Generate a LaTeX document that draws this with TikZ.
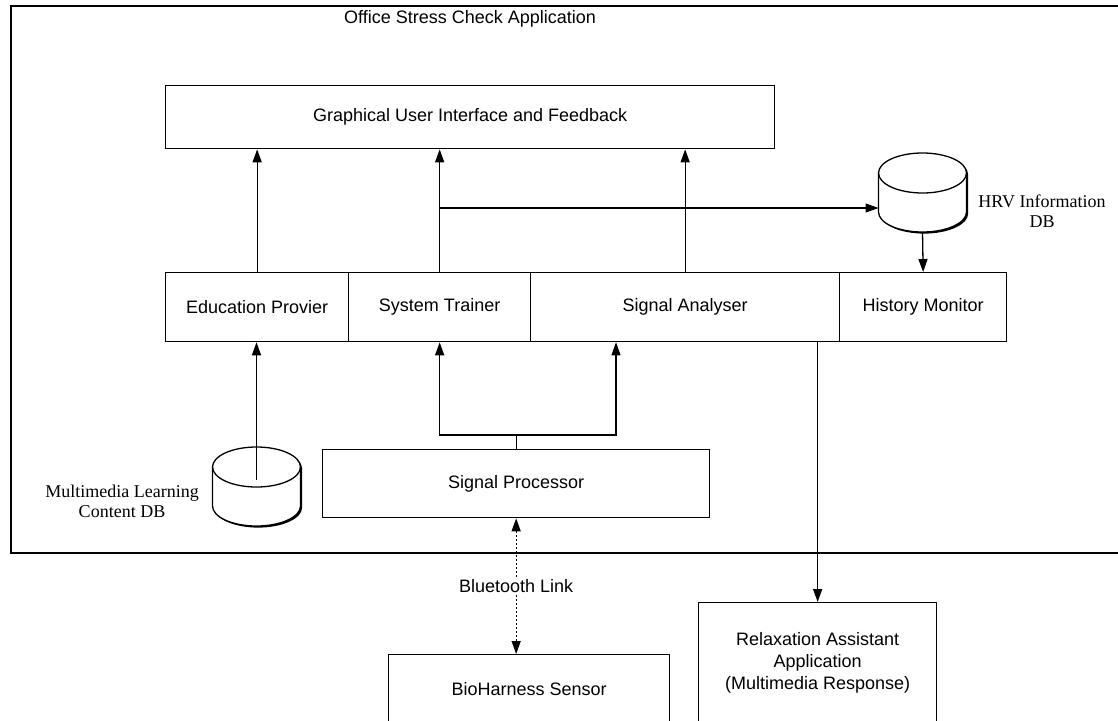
\documentclass[tikz,border=0pt]{standalone}
\usepackage{fontspec}
\setmainfont{Liberation Sans}
\newfontfamily\labelserif{Liberation Serif}
\usetikzlibrary{arrows.meta}
\begin{document}
\begin{tikzpicture}[x=1pt, y=-1pt, line width=1.3pt,
  every node/.style={font=\fontsize{18}{22}\selectfont},
  blk/.style={draw, line width=1.3pt, inner sep=0pt, anchor=north west, align=center},
  arr/.style={-{Triangle[length=13pt,width=9pt]}},
  dotarr/.style={{Triangle[length=13pt,width=9pt]}-{Triangle[length=13pt,width=9pt]}, dash pattern=on 2pt off 2pt},
  ghost/.style={inner sep=0pt, outer sep=0pt, minimum width=88pt, minimum height=79pt},
  dblabel/.style={font=\labelserif\fontsize{18}{20}\selectfont, align=center},
  pics/drum/.style={code={
    \fill[black, shift={(1.6,1.6)}] (-44,-19.5) -- (-44,19.5)
      arc[start angle=180, end angle=0, x radius=44, y radius=20] -- (44,-19.5)
      arc[start angle=0, end angle=-180, x radius=44, y radius=20] -- cycle;
    \filldraw[fill=white] (-44,-19.5) -- (-44,19.5)
      arc[start angle=180, end angle=0, x radius=44, y radius=20] -- (44,-19.5)
      arc[start angle=0, end angle=-180, x radius=44, y radius=20] -- cycle;
    \draw (-44,-19.5) arc[start angle=180, end angle=0, x radius=44, y radius=20];
  }}]
\useasboundingbox (0,0) rectangle (1118,720);
\clip (0,0) rectangle (1118,720);

% application frame
\node[draw, line width=2.4pt, inner sep=0pt, anchor=north west,
      minimum width=1120pt, minimum height=547pt] (app) at (10,5) {};
\node (title) at (470,19) {Office Stress Check Application};

% top layer
\node[blk, minimum width=609pt, minimum height=63pt] (gui) at (165,85) {Graphical User Interface and Feedback};

% module row
\node[blk, minimum width=183pt, minimum height=69pt] (edu) at (165,272) {Education Provier};
\node[blk, minimum width=182pt, minimum height=69pt] (trainer) at (348,272) {System Trainer};
\node[blk, minimum width=309pt, minimum height=69pt] (analyser) at (530,272) {Signal Analyser};
\node[blk, minimum width=167pt, minimum height=69pt] (history) at (839,272) {History Monitor};

% processing and external parts
\node[blk, minimum width=387pt, minimum height=68pt] (proc) at (322,449) {Signal Processor};
\node[blk, minimum width=281pt, minimum height=68pt] (bio) at (388,654) {BioHarness Sensor};
\node[blk, minimum width=238pt, minimum height=120pt] (relax) at (698,602) {Relaxation Assistant\\Application\\(Multimedia Response)};

% databases
\pic at (922.5,192.5) {drum};
\node[ghost] (hrv) at (922.5,192.5) {};
\node[dblabel] (hrvlabel) at (1042,211) {HRV Information\\DB};
\pic at (256.5,486.5) {drum};
\node[ghost] (mmdb) at (256.5,486.5) {};
\node[dblabel] (mmlabel) at (122,501) {Multimedia Learning\\Content DB};
\coordinate (mmtap) at (256.5,480);

% connectors to the interface
\draw[arr] (edu.north) -- (edu.north |- gui.south);
\draw[arr] (trainer.north) -- (trainer.north |- gui.south);
\draw[arr] (analyser.north) -- (analyser.north |- gui.south);
\path (trainer.north) ++(0,-64) coordinate (tap);
\draw[arr] (tap) -- (tap -| hrv.west);
\draw[arr] (hrv.south) -- (history.north);

% learning content feed
\draw[arr] (mmtap) -- (mmtap |- edu.south);

% processor outputs
\draw (proc.north) -- ++(0,-14) coordinate (split);
\path (analyser.south west) ++(86,0) coordinate (anin);
\draw[arr] (split) -| (trainer.south);
\draw[arr] (split) -| (anin);

% response path
\draw[arr] (relax.north |- analyser.south) -- (relax.north);

% wireless link
\draw[dotarr] (proc.south) -- node[fill=white, inner sep=1pt] (bt) {Bluetooth Link} (proc.south |- bio.north);
\end{tikzpicture}
\end{document}
